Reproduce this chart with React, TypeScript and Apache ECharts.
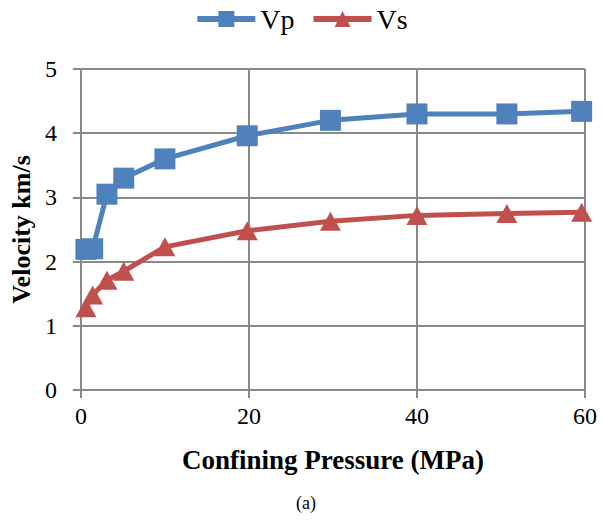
import React, { useEffect, useRef } from "react";
import * as echarts from "echarts";

// Confining pressure (MPa) and the measured velocities (km/s)
const pressure = [0.6, 1.4, 3.1, 5.1, 10, 19.8, 29.7, 40, 50.7, 59.6];
const vpVelocity = [2.19, 2.2, 3.05, 3.3, 3.6, 3.96, 4.2, 4.3, 4.3, 4.34];
const vsVelocity = [1.28, 1.48, 1.71, 1.85, 2.23, 2.48, 2.63, 2.72, 2.75, 2.77];

const xTicks = [0, 20, 40, 60];
const yTicks = [0, 1, 2, 3, 4, 5];

const BLUE = "#4F81BD";
const RED = "#C0504D";
const GRID = "#898989";
const SERIF = "Times New Roman, serif";

const pairs = (xs: number[], ys: number[]) => xs.map((x, i) => [x, ys[i]]);

export default function App() {
  const ref = useRef<HTMLDivElement>(null);

  useEffect(() => {
    document.body.style.margin = "0";
    if (!ref.current) return;
    const chart = echarts.init(ref.current, undefined, { renderer: "svg" });
    chart.setOption({
      animation: false,
      backgroundColor: "#ffffff",
      textStyle: { fontFamily: SERIF },
      legend: {
        top: 0,
        left: "center",
        itemWidth: 58,
        itemHeight: 20,
        itemGap: 16,
        lineStyle: { width: 6 },
        textStyle: { fontFamily: SERIF, fontSize: 28, color: "#000" },
        data: ["Vp", "Vs"],
      },
      grid: { left: 79, right: 17, top: 69, bottom: 130, containLabel: false },
      xAxis: {
        type: "value",
        min: xTicks[0],
        max: xTicks[xTicks.length - 1],
        interval: 20,
        name: "Confining Pressure (MPa)",
        nameLocation: "middle",
        nameGap: 56,
        nameTextStyle: { fontFamily: SERIF, fontSize: 27, fontWeight: "bold", color: "#000" },
        axisLine: { show: true, lineStyle: { color: GRID, width: 2 } },
        axisTick: { show: true, length: 8, lineStyle: { color: GRID, width: 2 } },
        axisLabel: { fontFamily: SERIF, fontSize: 24, color: "#000", margin: 14 },
        splitLine: { show: true, lineStyle: { color: GRID, width: 2 } },
      },
      yAxis: {
        type: "value",
        min: yTicks[0],
        max: yTicks[yTicks.length - 1],
        interval: 1,
        name: "Velocity km/s",
        nameLocation: "middle",
        nameGap: 44,
        nameTextStyle: { fontFamily: SERIF, fontSize: 26, fontWeight: "bold", color: "#000" },
        axisLine: { show: true, lineStyle: { color: GRID, width: 2 } },
        axisTick: { show: true, length: 8, lineStyle: { color: GRID, width: 2 } },
        axisLabel: { fontFamily: SERIF, fontSize: 24, color: "#000", margin: 24 },
        splitLine: { show: true, lineStyle: { color: GRID, width: 2 } },
      },
      series: [
        {
          name: "Vp",
          type: "line",
          data: pairs(pressure, vpVelocity),
          symbol: "rect",
          symbolSize: 21,
          lineStyle: { color: BLUE, width: 5 },
          itemStyle: { color: BLUE },
        },
        {
          name: "Vs",
          type: "line",
          data: pairs(pressure, vsVelocity),
          symbol: "triangle",
          symbolSize: [21, 19],
          lineStyle: { color: RED, width: 5 },
          itemStyle: { color: RED },
        },
      ],
      graphic: [
        {
          type: "text",
          left: 296,
          top: 494,
          style: { text: "(a)", fontFamily: SERIF, fontSize: 18, fill: "#000" },
        },
      ],
    });
    return () => chart.dispose();
  }, []);

  return <div ref={ref} style={{ width: 602, height: 520 }} />;
}
